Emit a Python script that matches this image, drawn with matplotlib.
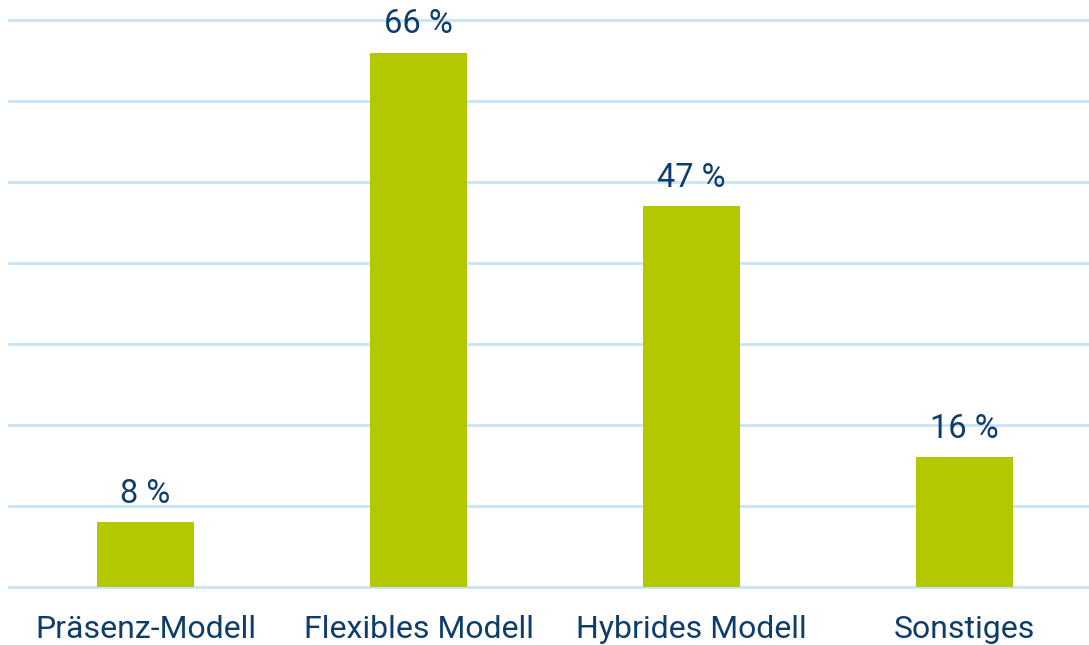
import numpy as np
import matplotlib.pyplot as plt

plt.rcParams['font.family'] = ['Roboto', 'DejaVu Sans']

# Modelle und Anteile in Prozent
kategorien = ['Präsenz-Modell', 'Flexibles Modell', 'Hybrides Modell', 'Sonstiges']
anteile = [8, 66, 47, 16]

gruen = '#b4c800'
blau_text = '#0e3d6b'
blau_raster = '#c8e4f8'

fig = plt.figure(figsize=(10.89, 6.45), dpi=100)
ax = fig.add_axes([9/1089, 1 - 587/645, 1 - 9/1089, 587/645])

x = np.arange(len(kategorien))
balken = ax.bar(x, anteile, width=0.355, color=gruen, zorder=3)

for b, v in zip(balken, anteile):
    ax.annotate(f'{v} %', (b.get_x() + b.get_width()/2, v),
                xytext=(0, 14), textcoords='offset points',
                ha='center', va='baseline', fontsize=23.5, color=blau_text, zorder=4)

ax.set_xlim(-0.5, 3.456)
ax.set_ylim(0, 72.5)
ax.set_yticks(np.arange(0, 71, 10))
ax.yaxis.grid(True, color=blau_raster, linewidth=2, zorder=0)
for gl in ax.get_ygridlines():
    gl.set_clip_on(False)
ax.set_yticklabels([])
ax.set_xticks(x)
ax.set_xticklabels(kategorien, fontsize=23, color=blau_text)
ax.tick_params(axis='both', length=0)
ax.tick_params(axis='x', pad=20)
for s in ax.spines.values():
    s.set_visible(False)

fig.savefig('out.png', dpi=100)
